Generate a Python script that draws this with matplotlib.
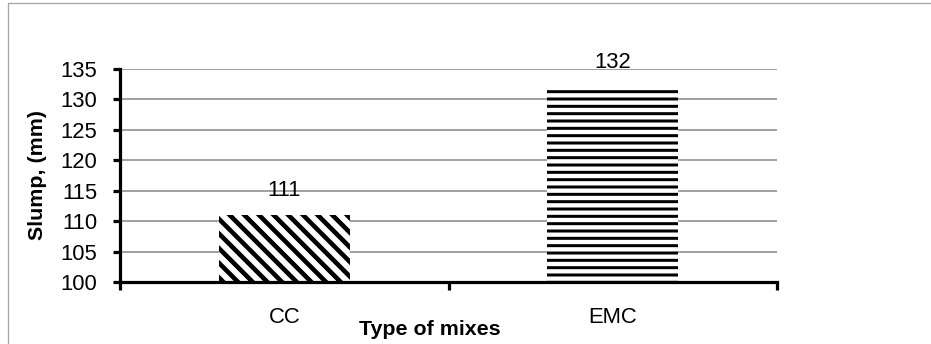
import matplotlib
matplotlib.use("Agg")
import matplotlib.pyplot as plt
from matplotlib.patches import Rectangle

# ---- data ----
categories = ["CC", "EMC"]
slump = [111, 132]
hatches = ["\\\\", "--"]
yticks = [100, 105, 110, 115, 120, 125, 130, 135]

DPI = 88
W, H = 931, 344

def pt(px):
    return px * 72.0 / DPI

plt.rcParams['font.family'] = ['Liberation Sans', 'DejaVu Sans']

fig = plt.figure(figsize=(W / DPI, H / DPI), dpi=DPI)
fig.patch.set_facecolor('white')

# outer border (only left/top visible in reference)
fig.add_artist(Rectangle((8 / W, -0.05), 1.2, (H - 3) / H + 0.05, transform=fig.transFigure,
                         fill=False, edgecolor='#a6a6a6', linewidth=pt(1.3)))

left, right, top, bottom = 120, 777, 69, 282
ax = fig.add_axes([left / W, (H - bottom) / H, (right - left) / W, (bottom - top) / H])

ax.set_ylim(100, 135)
ax.set_xlim(-0.5, len(categories) - 0.5)
ax.set_yticks(yticks)
ax.yaxis.grid(True, color='#8c8c8c', linewidth=pt(1.6))
ax.set_axisbelow(True)

xpos = list(range(len(categories)))
lw_hatch = [pt(4.6), pt(3.0)]
for i, (x, v, h) in enumerate(zip(xpos, slump, hatches)):
    with plt.rc_context({'hatch.linewidth': lw_hatch[i], 'hatch.color': 'black'}):
        b = ax.bar(x, v - 100, bottom=100, width=0.40, facecolor='white',
                   edgecolor='black', linewidth=0, hatch=h)
    ax.annotate(str(v), (x, v), xytext=(0, pt(25)), textcoords='offset points',
                ha='center', va='center', fontsize=18)

for s in ['top', 'right']:
    ax.spines[s].set_visible(False)
for s in ['left', 'bottom']:
    ax.spines[s].set_linewidth(pt(3.2))
    ax.spines[s].set_color('black')

# x ticks: labels at categories, tick marks between categories
ax.set_xticks(xpos)
ax.set_xticklabels(categories)
ax.set_xticks([-0.5 + k for k in range(len(categories) + 1)], minor=True)
ax.tick_params(axis='x', which='major', length=0, pad=pt(25), labelsize=18)
ax.tick_params(axis='x', which='minor', length=pt(8), width=pt(3.2), direction='out')
ax.tick_params(axis='y', length=pt(7), width=pt(3.2), direction='out', pad=pt(16), labelsize=18)

ax.set_ylabel('Slump, (mm)', fontsize=17.5, fontweight='bold')
ax.yaxis.set_label_coords((37 - left) / (right - left), 0.5)
ax.set_xlabel('Type of mixes', fontsize=17.5, fontweight='bold')
ax.xaxis.set_label_coords((430 - left) / (right - left), (bottom - 329.5) / (bottom - top))
ax.xaxis.label.set_va('center')
ax.yaxis.label.set_va('center')

fig.savefig('out.png', dpi=DPI)
